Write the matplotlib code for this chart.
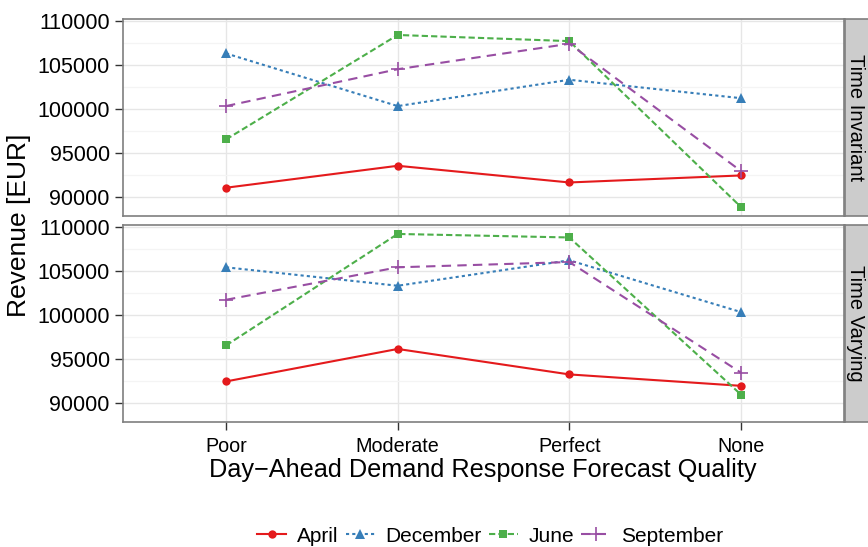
import numpy as np
import matplotlib
matplotlib.use('Agg')
import matplotlib.pyplot as plt

plt.rcParams['font.family'] = ['Liberation Sans', 'DejaVu Sans']

# data
quality = ['Poor', 'Moderate', 'Perfect', 'None']
months = ['April', 'December', 'June', 'September']
facets = ['Time Invariant', 'Time Varying']

invariant_april = [91000, 93500, 91600, 92400]
invariant_december = [106300, 100300, 103300, 101200]
invariant_june = [96500, 108400, 107700, 88800]
invariant_september = [100300, 104500, 107400, 92900]

varying_april = [92400, 96100, 93200, 91900]
varying_december = [105400, 103300, 106200, 100300]
varying_june = [96500, 109200, 108800, 90900]
varying_september = [101700, 105400, 106000, 93400]

panel_data = {
    'Time Invariant': [invariant_april, invariant_december, invariant_june, invariant_september],
    'Time Varying': [varying_april, varying_december, varying_june, varying_september],
}

colors = ['#E41A1C', '#377EB8', '#4DAF4A', '#984EA3']
markers = ['o', '^', 's', '+']
dashes = [None, (1.5, 1.5), (3, 1.5), (4.5, 3)]
msizes = [6, 7, 6, 10]

W, H = 868, 547
fig = plt.figure(figsize=(W / 100, H / 100), dpi=100)

def px_rect(x0, y0, x1, y1):
    return [x0 / W, 1 - y1 / H, (x1 - x0) / W, (y1 - y0) / H]

# shared y range, ggplot-like 5% expansion
all_vals = np.concatenate([np.ravel(v) for v in panel_data.values()])
lo, hi = all_vals.min(), all_vals.max()
pad = (hi - lo) * 0.05
ylim = (lo - pad, hi + pad)

panels = [(19, 216), (225, 422)]
x = np.arange(len(quality))
lines = []
for i, (facet, (top, bot)) in enumerate(zip(facets, panels)):
    ax = fig.add_axes(px_rect(123, top, 844, bot))
    ax.set_xlim(-0.6, len(quality) - 0.4)
    ax.set_ylim(*ylim)
    ax.set_yticks([90000, 95000, 100000, 105000, 110000])
    ax.set_yticks([92500, 97500, 102500, 107500], minor=True)
    ax.set_xticks(x)
    ax.grid(True, which='major', color='#E6E6E6', lw=1.0)
    ax.grid(True, which='minor', axis='y', color='#F4F4F4', lw=0.9)
    ax.set_axisbelow(True)
    for s in ax.spines.values():
        s.set_color('#7F7F7F')
        s.set_linewidth(1.2)
    ax.tick_params(axis='y', which='major', length=5.5, width=1, color='#333333',
                   labelsize=15.5, labelcolor='black', pad=4)
    ax.tick_params(axis='y', which='minor', length=0)
    if i == 0:
        ax.tick_params(axis='x', length=0, labelbottom=False)
    else:
        ax.set_xticklabels(quality)
        ax.tick_params(axis='x', length=5.5, width=1, color='#333333',
                       labelsize=14.2, labelcolor='black', pad=5)

    for m, vals in enumerate(panel_data[facet]):
        kw = dict(color=colors[m], lw=1.5, marker=markers[m], ms=msizes[m],
                  mew=1.2 if markers[m] == '+' else 0, label=months[m])
        ln, = ax.plot(x, vals, **kw)
        if dashes[m] is not None:
            ln.set_dashes(dashes[m])
        if i == 0:
            lines.append(ln)

    # facet strip on the right
    sax = fig.add_axes(px_rect(845, top, 880, bot))
    sax.set_xticks([])
    sax.set_yticks([])
    sax.set_facecolor('#CCCCCC')
    for s in sax.spines.values():
        s.set_color('#7F7F7F')
        s.set_linewidth(1.2)
    fig.text(856 / W, 1 - (top + bot) / 2 / H, facet, rotation=-90,
             ha='center', va='center', fontsize=14.5)

fig.text(19 / W, 1 - 225 / H, 'Revenue [EUR]', rotation=90, ha='center',
         va='center', fontsize=19)
fig.text(483 / W, 1 - 470 / H, 'Day\u2212Ahead Demand Response Forecast Quality',
         ha='center', va='center', fontsize=18.2)

fig.legend(handles=lines, labels=months, loc='center', ncol=4,
           bbox_to_anchor=(490 / W, 1 - 536 / H), frameon=False,
           fontsize=15, handlelength=1.4, handletextpad=0.5, columnspacing=0.35)

fig.savefig('out.png', dpi=100)
